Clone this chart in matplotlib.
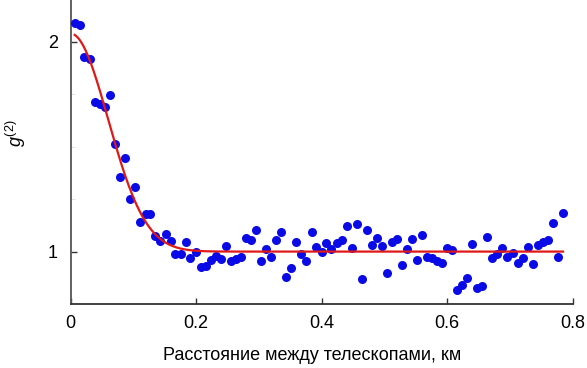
#!/usr/bin/env python3
"""g2 correlation vs telescope separation (recreated)."""

import matplotlib
matplotlib.use('Agg')
import matplotlib.pyplot as plt
import numpy as np

plt.rcParams.update({
    'font.family': ['Liberation Sans', 'DejaVu Sans'],
    'mathtext.fontset': 'custom',
    'mathtext.rm': 'Liberation Sans',
    'mathtext.it': 'Liberation Sans:italic',
    'axes.spines.top': False,
    'axes.spines.right': False,
})

# measured points: separation (km) and g2
dist_km = [0.0067, 0.0151, 0.0220, 0.0306, 0.0390, 0.0470, 0.0550, 0.0629,
           0.0709, 0.0789, 0.0873, 0.0948, 0.1033, 0.1112, 0.1203, 0.1272,
           0.1347, 0.1431, 0.1517, 0.1597, 0.1670, 0.1756, 0.1836, 0.1909,
           0.2000, 0.2075, 0.2155, 0.2234, 0.2314, 0.2398, 0.2478, 0.2553,
           0.2637, 0.2717, 0.2797, 0.2876, 0.2956, 0.3036, 0.3116, 0.3195,
           0.3275, 0.3355, 0.3439, 0.3519, 0.3598, 0.3678, 0.3758, 0.3841,
           0.3917, 0.4003, 0.4076, 0.4156, 0.4242, 0.4322, 0.4402, 0.4481,
           0.4561, 0.4641, 0.4720, 0.4800, 0.4880, 0.4959, 0.5039, 0.5119,
           0.5203, 0.5283, 0.5363, 0.5442, 0.5522, 0.5602, 0.5677, 0.5761,
           0.5841, 0.5920, 0.6003, 0.6084, 0.6164, 0.6244, 0.6323, 0.6403,
           0.6483, 0.6563, 0.6642, 0.6722, 0.6802, 0.6881, 0.6961, 0.7047,
           0.7127, 0.7206, 0.7286, 0.7366, 0.7445, 0.7525, 0.7605, 0.7684,
           0.7769, 0.7849]
g2 = [2.091, 2.079, 1.930, 1.919, 1.715, 1.704, 1.691, 1.747,
      1.513, 1.357, 1.446, 1.253, 1.310, 1.142, 1.180, 1.177,
      1.076, 1.051, 1.083, 1.051, 0.988, 0.988, 1.046, 0.971,
      0.996, 0.925, 0.933, 0.960, 0.981, 0.967, 1.027, 0.957,
      0.964, 0.973, 1.064, 1.053, 1.104, 0.954, 1.013, 0.976,
      1.053, 1.093, 0.878, 0.924, 1.048, 0.989, 0.957, 1.093,
      1.024, 1.000, 1.040, 1.011, 1.040, 1.053, 1.124, 1.016,
      1.132, 0.868, 1.105, 1.032, 1.064, 1.026, 0.898, 1.045,
      1.059, 0.936, 1.010, 1.059, 0.962, 1.080, 0.973, 0.968,
      0.954, 0.947, 1.018, 1.007, 0.816, 0.841, 0.873, 1.035,
      0.828, 0.835, 1.070, 0.970, 0.988, 1.016, 0.976, 0.995,
      0.946, 0.968, 1.022, 0.941, 1.033, 1.048, 1.054, 1.134,
      0.976, 1.186]

# gaussian fit parameters
fit_base = 1.0
fit_amp = 1.04
fit_sigma = 0.060

fig = plt.figure(figsize=(5.87, 3.68), dpi=100)
ax = fig.add_axes([70.5 / 587, 1 - 304 / 368, 502 / 587, 304 / 368])

xf = np.linspace(min(dist_km), max(dist_km), 400)
yf = fit_base + fit_amp * np.exp(-xf**2 / (2 * fit_sigma**2))

ax.plot(dist_km, g2, 'o', color='#0a0ae6', markersize=6.5, markeredgewidth=0, zorder=3)
ax.plot(xf, yf, color='#e01818', linewidth=1.6, zorder=4)

ax.set_xlim(0, 0.8)
ax.set_ylim(0.75, 2.2)
ax.set_xticks([0, 0.2, 0.4, 0.6, 0.8])
ax.set_xticklabels(['0', '0.2', '0.4', '0.6', '0.8'])
ax.set_yticks([1, 2])
ax.set_yticks([1.25, 1.5, 1.75], minor=True)
ax.tick_params(axis='both', which='major', direction='in', length=4, width=1,
               labelsize=13, color='#333333')
ax.tick_params(axis='x', pad=8)
ax.tick_params(axis='y', pad=9)
ax.tick_params(axis='y', which='minor', direction='in', length=3, color='#dddddd')

ax.spines['left'].set_color('#555555')
ax.spines['bottom'].set_color('#333333')
ax.spines['left'].set_linewidth(1.3)
ax.spines['bottom'].set_linewidth(1.3)

ax.set_xlabel('Расстояние между телескопами, км', fontsize=13)
ax.xaxis.set_label_coords((312 - 70.5) / 502, -0.14)
ax.set_ylabel(r'$g^{(2)}$', fontsize=13)
ax.yaxis.set_label_coords(-0.084, 0.56)

fig.savefig('out.png', dpi=100, facecolor='white')
plt.close(fig)
